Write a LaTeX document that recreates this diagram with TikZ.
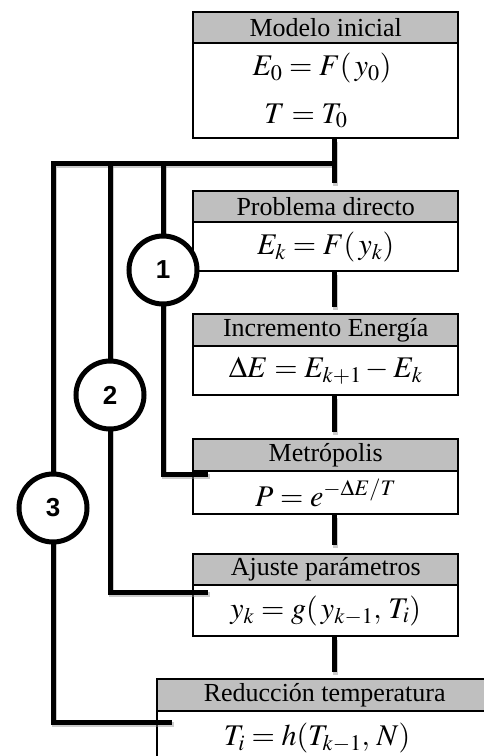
\documentclass[tikz,border=0pt]{standalone}
\usepackage{amsmath}
\usepackage{mathptmx}
\usepackage{fontspec}
\setmainfont{Liberation Serif}
\newfontfamily\numfont{Liberation Sans}
\definecolor{hdrgray}{RGB}{191,191,191}
\begin{document}
\begin{tikzpicture}[x=1pt,y=-1pt,line join=miter,
  hdr/.style={draw,line width=2.4pt,fill=hdrgray,anchor=north west,inner sep=0pt,
    minimum width=265pt,font=\fontsize{26}{30}\selectfont},
  bodyb/.style={draw,line width=2.4pt,fill=white,anchor=north west,inner sep=0pt,
    minimum width=265pt,align=center,font=\fontsize{30}{34}\selectfont},
  formula/.style={inner sep=0pt,font=\fontsize{30}{34}\selectfont},
  link/.style={line width=5pt},
  linkshadow/.style={line width=5.5pt,black!45,opacity=.45},
  stage/.style={circle,draw,line width=5pt,fill=white,minimum size=68pt,inner sep=0pt,
    font=\numfont\bfseries\fontsize{26}{30}\selectfont}]
\useasboundingbox (0,0) rectangle (484,756);
\clip (0,0) rectangle (484,756);

% process boxes: grey title bar above a white formula field
\node[hdr,minimum height=31pt] (h1) at (192,11) {Modelo inicial};
\node[bodyb,minimum height=95pt] (b1) at (192,42) {};
\node[formula] (f1a) at (322,68) {$E_0 = F(\,y_0)$};
\node[formula] (f1b) at (306,116) {$T = T_0$};

\node[hdr,minimum height=31pt] (h2) at (192,190) {Problema directo};
\node[bodyb,minimum height=49pt] (b2) at (192,221) {$E_k = F(\,y_k)$};

\node[hdr,minimum height=32pt] (h3) at (192,313) {Incremento Energía};
\node[bodyb,minimum height=49pt] (b3) at (192,345) {$\Delta E = E_{k+1} - E_k$};

\node[hdr,minimum height=32pt] (h4) at (192,438) {Metrópolis};
\node[bodyb,minimum height=43pt] (b4) at (192,470) {$P = e^{-\Delta E/T}$};

\node[hdr,minimum height=31pt] (h5) at (192,553) {Ajuste parámetros};
\node[bodyb,minimum height=51pt] (b5) at (192,584) {$y_k = g(\,y_{k-1},\, T_i)$};

\node[hdr,minimum height=32pt,minimum width=335pt] (h6) at (156,678) {Reducción temperatura};
\node[bodyb,minimum height=62pt,minimum width=335pt] (b6) at (156,710) {};
\node[formula] (f6) at (317,738) {$T_i = h(T_{k-1},\, N)$};

% loop junctions
\coordinate (cx) at (334,0);
\coordinate (bus) at (334,163);
\coordinate (e1) at (208,474);
\coordinate (e2) at (208,592);
\coordinate (e3) at (172,722);
\coordinate (l1) at (163,0);
\coordinate (l2) at (110,0);
\coordinate (l3) at (53,0);

\newcommand\flowlines[1]{%
  \draw[#1,shorten >=7pt] (b1.south -| cx) -- (h2.north -| cx);
  \draw[#1,shorten >=6pt] (b2.south -| cx) -- (h3.north -| cx);
  \draw[#1,shorten >=6pt] (b3.south -| cx) -- (h4.north -| cx);
  \draw[#1,shorten >=8pt] (b4.south -| cx) -- (h5.north -| cx);
  \draw[#1,shorten >=6pt] (b5.south -| cx) -- (h6.north -| cx);
  \draw[#1] (bus) -- (bus -| l3) -- (l3 |- e3) -- (e3);
  \draw[#1] (bus -| l2) -- (l2 |- e2) -- (e2);
  \draw[#1] (bus -| l1) -- (l1 |- e1) -- (e1);
}
\begin{scope}[transform canvas={shift={(1.5pt,-2.5pt)}}]
  \flowlines{linkshadow}
\end{scope}
\flowlines{link}

% loop markers
\node[stage] (c1) at (163,270) {\raisebox{-3pt}{1}};
\node[stage] (c2) at (110,395) {\raisebox{-3pt}{2}};
\node[stage] (c3) at (53,508) {\raisebox{-3pt}{3}};
\end{tikzpicture}
\end{document}
